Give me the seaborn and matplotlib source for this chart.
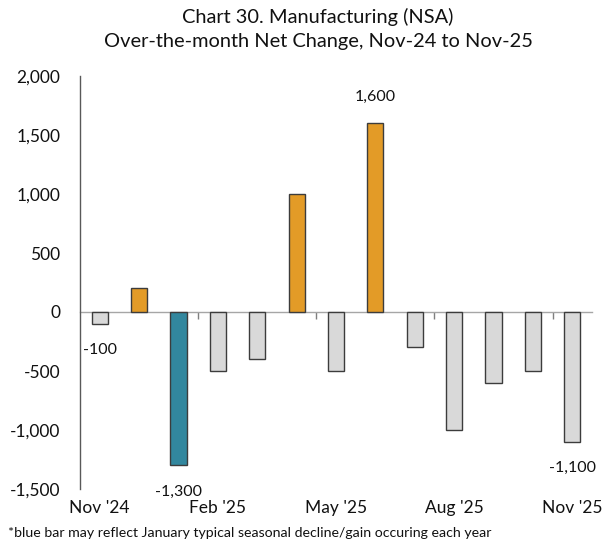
import matplotlib
matplotlib.use("Agg")
import matplotlib.pyplot as plt
import seaborn as sns
import pandas as pd
from matplotlib.ticker import FuncFormatter

# Over-the-month net change in manufacturing employment (not seasonally adjusted)
months = ["Nov '24", "Dec '24", "Jan '25", "Feb '25", "Mar '25", "Apr '25", "May '25",
          "Jun '25", "Jul '25", "Aug '25", "Sep '25", "Oct '25", "Nov '25"]
net_change = [-100, 200, -1300, -500, -400, 1000, -500, 1600, -300, -1000, -600, -500, -1100]
shown_labels = ["Nov '24", "Jan '25", "Jun '25", "Nov '25"]
tick_months = ["Nov '24", "Feb '25", "May '25", "Aug '25", "Nov '25"]
seasonal_month = "Jan '25"

def bar_group(month, value):
    if month == seasonal_month:
        return "seasonal"
    return "gain" if value > 0 else "loss"

df = pd.DataFrame({"month": months, "change": net_change})
df["group"] = [bar_group(m, v) for m, v in zip(months, net_change)]

palette = {"gain": "#E39B27", "loss": "#D9D9D9", "seasonal": "#32879E"}

sns.set_theme(style="white")
plt.rcParams["font.family"] = ["Lato", "DejaVu Sans"]

fig = plt.figure(figsize=(6.16, 5.46), dpi=100)
ax = fig.add_axes([80 / 616, 1 - 489 / 546, 512 / 616, 413 / 546])

sns.barplot(data=df, x="month", y="change", hue="group", order=months,
            palette=palette, saturation=1, dodge=False, width=0.41,
            edgecolor="#3c3c3c", linewidth=1.0, legend=False, ax=ax)

ax.set_xlim(-0.5, len(months) - 0.5)
ax.set_ylim(-1500, 2000)
ax.set_yticks(range(-1500, 2001, 500))
ax.yaxis.set_major_formatter(FuncFormatter(lambda v, p: f"{int(v):,}"))
ax.tick_params(axis="y", length=0, pad=14, labelsize=12.5, labelcolor="#111111")

# month labels along the bottom
ax.set_xticks([months.index(m) for m in tick_months])
ax.set_xticklabels(tick_months)
ax.tick_params(axis="x", length=0, pad=8, labelsize=12.5, labelcolor="#111111")
ax.set_xlabel("")
ax.set_ylabel("")

for side in ["top", "right", "bottom"]:
    ax.spines[side].set_visible(False)
ax.spines["left"].set_color("#595959")
ax.spines["left"].set_linewidth(1.0)

# zero line with quarter separators
zero_axis = ax.secondary_xaxis(0, transform=ax.transData)
zero_axis.spines["bottom"].set_color("#a6a6a6")
zero_axis.spines["bottom"].set_linewidth(1.0)
zero_axis.set_xticks([months.index(m) - 0.5 for m in tick_months[1:]])
zero_axis.tick_params(axis="x", direction="out", length=5, width=1.0,
                      color="#7f7f7f", labelbottom=False)

# value labels on selected bars
for m in shown_labels:
    i = months.index(m)
    v = net_change[i]
    offset = 26 if v > 0 else -26
    ax.annotate(f"{v:,}", xy=(i, v), xytext=(0, offset), textcoords="offset pixels",
                ha="center", va="center", fontsize=11.5, color="#111111")

fig.text(318 / 616, 1 - 17 / 546, "Chart 30. Manufacturing (NSA)",
         ha="center", va="center", fontsize=14.4, color="#111111")
fig.text(318 / 616, 1 - 41 / 546, "Over-the-month Net Change, Nov-24 to Nov-25",
         ha="center", va="center", fontsize=14.4, color="#111111")
fig.text(8 / 616, 1 - 533 / 546,
         "*blue bar may reflect January typical seasonal decline/gain occuring each year",
         ha="left", va="center", fontsize=10.2, color="#111111")

fig.savefig("out.png", dpi=100)
